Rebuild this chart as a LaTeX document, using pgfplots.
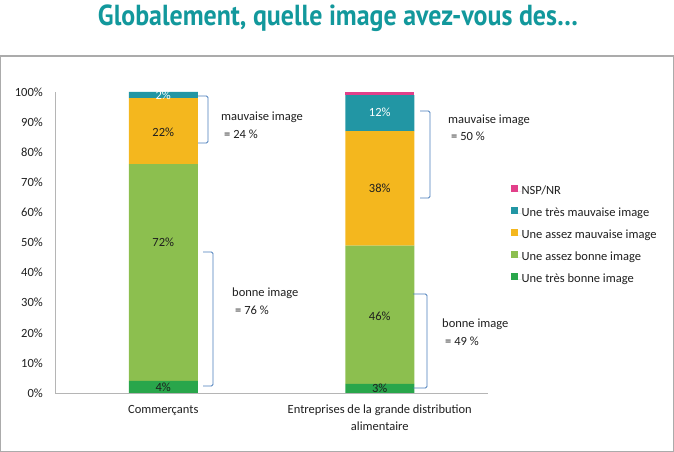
\documentclass[border=0pt]{standalone}
\usepackage{pgfplots}
\pgfplotsset{compat=1.18}
\usepackage{pgfplotstable}
\usetikzlibrary{calc}
\usepackage{graphicx}
\usepackage{fontspec}
\setmainfont{Carlito}
\newfontfamily\titlefont{PT Sans}

\definecolor{titleteal}{HTML}{12989C}
\definecolor{cNSP}{HTML}{E2408A}
\definecolor{cTM}{HTML}{2296A4}
\definecolor{cAM}{HTML}{F4B71E}
\definecolor{cAB}{HTML}{8CBF4F}
\definecolor{cTB}{HTML}{29A64B}
\definecolor{bracecol}{HTML}{4A7EBB}
\definecolor{framecol}{HTML}{ABABAB}
\definecolor{axisgray}{HTML}{B5B5B5}
\definecolor{txt}{HTML}{1E1E1E}

% shares of answers, in %
\pgfplotstableread{
x tb ab am tm nsp
0 4 72 22 2 0
1 3 46 38 12 1
}\shares

% positions of the value labels inside the bars
\pgfplotstableread{
x y v
0 2 4
0 50 72
0 86.7 22
1 1.5 3
1 25.6 46
1 68 38
}\darklabels

\pgfplotstableread{
x y v
0 98.8 2
1 93.4 12
}\lightlabels

\pgfplotsset{
  sq/.style={legend image code/.code={%
    \fill[##1] (0pt,-0.5pt) rectangle (6.5pt,6pt);
    \path (0pt,0pt) -- (10.5pt,0pt);}},
  frameaxis/.style={
    scale only axis, width=433pt, height=301pt,
    xmin=-0.5, xmax=1.5, ymin=0, ymax=100,
    clip=false},
}

\begin{document}
\begin{tikzpicture}[font=\fontsize{12.5}{17}\selectfont]

\begin{axis}[
  name=main, at={(55pt,59pt)}, anchor=south west,
  frameaxis,
  ybar stacked, bar width=69pt,
  axis lines*=left,
  axis line style={axisgray, line width=0.8pt},
  major tick length=0pt,
  xtick={0,1},
  xticklabels={Commerçants, {Entreprises de la grande distribution\\alimentaire}},
  xticklabel style={align=center, inner sep=0pt, yshift=-12pt, anchor=north, text=txt},
  ytick={0,10,...,100},
  yticklabel={\pgfmathprintnumber{\tick}\%},
  yticklabel style={anchor=east, inner sep=0pt, xshift=-12pt, text=txt},
  /pgf/number format/assume math mode=true,
  reverse legend,
  legend cell align=left,
  legend style={at={(1.053,0.691)}, anchor=north west, draw=none, fill=none,
    inner sep=0pt, row sep=10pt,
    nodes={inner sep=0pt, text height=9pt, text depth=3pt, text=txt}},
]
\addplot[fill=cTB, draw=none, sq] table[x=x, y=tb]{\shares};
\addplot[fill=cAB, draw=none, sq] table[x=x, y=ab]{\shares};
\addplot[fill=cAM, draw=none, sq] table[x=x, y=am]{\shares};
\addplot[fill=cTM, draw=none, sq] table[x=x, y=tm]{\shares};
\addplot[fill=cNSP, draw=none, sq] table[x=x, y=nsp]{\shares};
\legend{Une très bonne image, Une assez bonne image, Une assez mauvaise image, Une très mauvaise image, NSP/NR}
\end{axis}

\begin{axis}[at={(main.south west)}, anchor=south west, frameaxis, hide axis]
\addplot[draw=none, mark=none, nodes near coords={\pgfplotspointmeta\%},
  point meta=explicit symbolic,
  every node near coord/.style={anchor=center, inner sep=0pt, text=txt}]
  table[x=x, y=y, meta=v]{\darklabels};
\addplot[draw=none, mark=none, nodes near coords={\pgfplotspointmeta\%},
  point meta=explicit symbolic,
  every node near coord/.style={anchor=center, inner sep=0pt, text=white}]
  table[x=x, y=y, meta=v]{\lightlabels};
\end{axis}

% page frame, title and annotations, measured from the lower left corner of the page
\begin{scope}[x=1pt, y=1pt, shift={($(main.south west)+(-55pt,-59pt)$)}]
\draw[framecol, line width=1.2pt] (0.6,0.6) rectangle (673.4,396);

\node[anchor=base, text=titleteal, inner sep=0pt] at (338,426)
  {\resizebox{480pt}{\height}{\titlefont\bfseries\fontsize{29}{32}\selectfont Globalement, quelle image avez-vous des…}};

\begin{scope}[bracecol, line width=0.9pt, rounded corners=1.5pt]
\draw (198,356) -- (208,356) -- (208,309) -- (198,309);
\draw (203,200) -- (213,200) -- (213,66) -- (203,66);
\draw (420,341) -- (430,341) -- (430,254) -- (420,254);
\draw (413,158) -- (427,158) -- (427,64) -- (413,64);
\end{scope}

\begin{scope}[every node/.style={anchor=base west, inner sep=0pt, text=txt}]
\node at (221,331) {mauvaise image};
\node at (224,313) {= 24 \%};
\node at (448,328) {mauvaise image};
\node at (451,311) {= 50 \%};
\node at (232,155) {bonne image};
\node at (235,137) {= 76 \%};
\node at (442,124) {bonne image};
\node at (445,106) {= 49 \%};
\end{scope}

\pgfresetboundingbox
\useasboundingbox (0,0) rectangle (674,452);
\end{scope}
\end{tikzpicture}
\end{document}
